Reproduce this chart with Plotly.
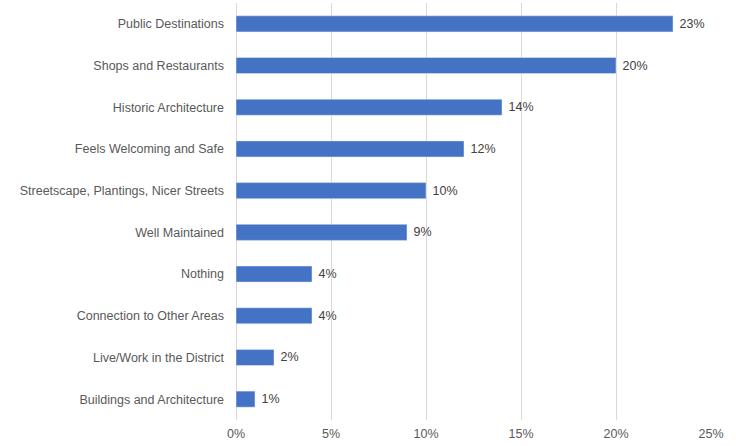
import plotly.graph_objects as go

categories = [
    "Public Destinations",
    "Shops and Restaurants",
    "Historic Architecture",
    "Feels Welcoming and Safe",
    "Streetscape, Plantings, Nicer Streets",
    "Well Maintained",
    "Nothing",
    "Connection to Other Areas",
    "Live/Work in the District",
    "Buildings and Architecture",
]
values = [23, 20, 14, 12, 10, 9, 4, 4, 2, 1]
tick_values = [0, 5, 10, 15, 20, 25]
tick_labels = ["0%", "5%", "10%", "15%", "20%", "25%"]

FONT = "Liberation Sans, Arial, sans-serif"

fig = go.Figure(
    go.Bar(
        x=values,
        y=categories,
        orientation="h",
        marker=dict(color="#4472C4"),
        text=[f"\u00a0{v}%" for v in values],
        textposition="outside",
        textfont=dict(family=FONT, size=12.5, color="#404040"),
        cliponaxis=False,
        width=0.385,
    )
)

fig.update_layout(
    width=736,
    height=446,
    margin=dict(l=236, r=25, t=3, b=26),
    plot_bgcolor="white",
    paper_bgcolor="white",
    font=dict(family=FONT, size=12.5, color="#595959"),
    showlegend=False,
    xaxis=dict(
        range=[0, 25],
        tickvals=tick_values,
        ticktext=tick_labels,
        showgrid=True,
        gridcolor="#D9D9D9",
        gridwidth=1,
        zeroline=True,
        zerolinecolor="#D9D9D9",
        zerolinewidth=1,
        showline=False,
        ticks="",
        ticklabelstandoff=4,
        tickfont=dict(size=12.5, color="#595959"),
    ),
    yaxis=dict(
        categoryorder="array",
        categoryarray=categories[::-1],
        showgrid=False,
        ticks="",
        ticklabelstandoff=11,
        tickfont=dict(size=12.5, color="#595959"),
    ),
)

fig.write_html(
    "out.html",
    config={"displayModeBar": False},
    post_script="document.body.style.margin='0';",
)
